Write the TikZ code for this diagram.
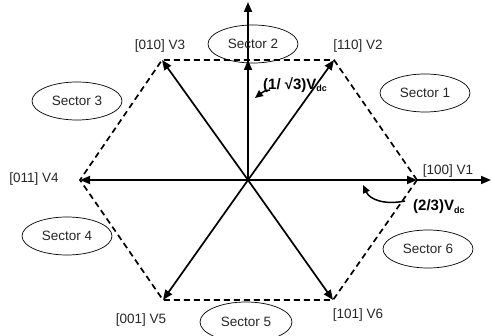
\documentclass[tikz,border=0pt]{standalone}
\usepackage{fontspec}
\setmainfont{Liberation Sans}
\usetikzlibrary{arrows.meta,shapes.geometric}
\begin{document}
\begin{tikzpicture}[x=1pt,y=-1pt,
  vec/.style={line width=1.7pt,-{Triangle[length=10pt,width=8pt]}},
  hexline/.style={line width=1.7pt,dash pattern=on 6pt off 4pt},
  sector/.style={ellipse,draw,line width=0.7pt,minimum width=90pt,minimum height=38pt,inner sep=0pt,font=\fontsize{13.5}{15}\selectfont,text=black!85},
  lbl/.style={font=\fontsize{13.5}{15}\selectfont,text=black!85,inner sep=0pt},
  ann/.style={font=\fontsize{15}{17}\selectfont\bfseries,inner sep=0pt,anchor=west},
  annarrow/.style={line width=1.5pt,-{Triangle[length=8pt,width=7pt]}}]
\useasboundingbox (0,0) rectangle (492,336);
\coordinate (O) at (248,180);
\coordinate (V1) at (417,180);
\coordinate (V2) at (334,60);
\coordinate (V3) at (162,60);
\coordinate (V4) at (80,180);
\coordinate (V5) at (163,300);
\coordinate (V6) at (333,300);
\coordinate (M) at (248,60);
\coordinate (T) at (248,2);
\coordinate (R) at (491,180);
% hexagon
\draw[hexline] (V1) -- (V2) -- (V3) -- (V4) -- (V5) -- (V6) -- cycle;
% vectors
\draw[vec] (O) -- (V1);
\draw[vec] (O) -- (V2);
\draw[vec] (O) -- (V3);
\draw[vec] (O) -- (V4);
\draw[vec] (O) -- (V5);
\draw[vec] (O) -- (V6);
\draw[vec] (V1) -- (R);
\draw[vec] (O) -- (T);
\draw[vec] (O) -- (M);
% vertex labels
\node[lbl] (L3) at (160,46) {[010] V3};
\node[lbl] (L2) at (358,46) {[110] V2};
\node[lbl] (L1) at (448,171) {[100] V1};
\node[lbl] (L4) at (34,179) {[011] V4};
\node[lbl] (L5) at (141,320) {[001] V5};
\node[lbl] (L6) at (358,315) {[101] V6};
% sectors
\node[sector] (S2) at (253,44) {Sector 2};
\node[sector] (S3) at (77,101) {Sector 3};
\node[sector] (S1) at (425,93) {Sector 1};
\node[sector] (S4) at (67,236) {Sector 4};
\node[sector] (S6) at (428,249) {Sector 6};
\node[sector,minimum width=92pt,minimum height=40pt] (S5) at (246,322) {Sector 5};
% annotations
\node[ann] (A1) at (263,85) {(1/ √3)V\textsubscript{\fontsize{9}{10}\selectfont dc}};
\coordinate (A1s) at (270,90);
\coordinate (A1e) at (255,98);
\draw[annarrow] (A1s) .. controls (264,91) .. (A1e);
\node[ann] (A2) at (413,207) {(2/3)V\textsubscript{\fontsize{9}{10}\selectfont dc}};
\coordinate (A2s) at (405,201);
\coordinate (A2e) at (363,185);
\draw[annarrow] (A2s) .. controls (385,205) and (370,200) .. (A2e);
\end{tikzpicture}
\end{document}
